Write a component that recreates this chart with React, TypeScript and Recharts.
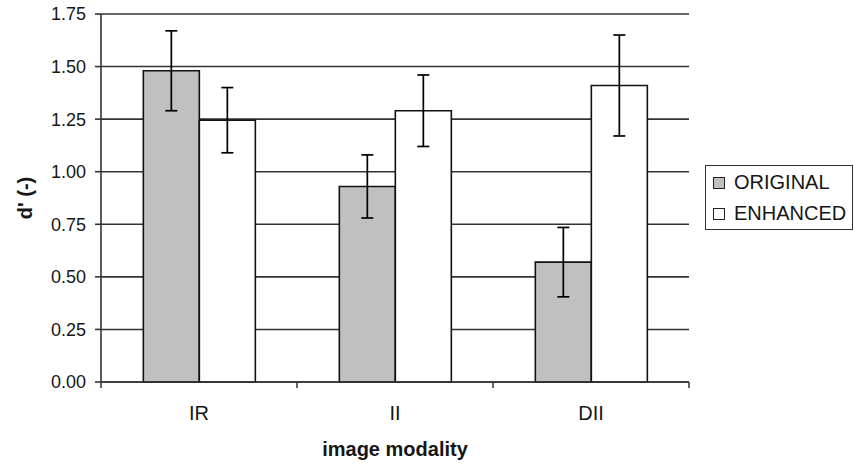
import React from 'react';
import { BarChart, Bar, XAxis, YAxis, CartesianGrid, ErrorBar, Legend, Label } from 'recharts';

const CATEGORIES = ['IR', 'II', 'DII'];
const ORIGINAL = [1.48, 0.93, 0.57];
const ORIGINAL_ERR = [0.19, 0.15, 0.165];
const ENHANCED = [1.245, 1.29, 1.41];
const ENHANCED_ERR = [0.155, 0.17, 0.24];
const Y_TICKS = [0, 0.25, 0.5, 0.75, 1, 1.25, 1.5, 1.75];

const SERIES = [
  { key: 'original', errKey: 'originalErr', name: 'ORIGINAL', fill: '#c0c0c0' },
  { key: 'enhanced', errKey: 'enhancedErr', name: 'ENHANCED', fill: '#ffffff' },
];

const data = CATEGORIES.map((c, i) => ({
  modality: c,
  original: ORIGINAL[i],
  originalErr: ORIGINAL_ERR[i],
  enhanced: ENHANCED[i],
  enhancedErr: ENHANCED_ERR[i],
}));

const FONT = '"Liberation Sans", Arial, Helvetica, sans-serif';
const LINE = '#333';
const TEXT = '#161616';

// Excel style: tick marks sit between the categories, not under them
const CategoryTick = (props: any) => {
  const { x, y, payload } = props;
  const half = payload.offset ?? 0;
  const axisY = y - 6;
  const last = payload.value === CATEGORIES[CATEGORIES.length - 1];
  return (
    <g>
      <line x1={x - half} x2={x - half} y1={axisY} y2={axisY + 6} stroke={LINE} strokeWidth={1.5} />
      {last && <line x1={x + half} x2={x + half} y1={axisY} y2={axisY + 6} stroke={LINE} strokeWidth={1.5} />}
      <text x={x} y={axisY + 38} textAnchor="middle" fontSize={20} fill={TEXT} fontFamily={FONT}>
        {payload.value}
      </text>
    </g>
  );
};

const LegendBox = () => (
  <div
    style={{
      border: `1.5px solid ${LINE}`,
      width: 148,
      height: 65,
      boxSizing: 'border-box',
      padding: '1px 0 0 7px',
      fontFamily: FONT,
      fontSize: 20,
      color: TEXT,
      background: '#fff',
    }}
  >
    {SERIES.map((s) => (
      <div key={s.key} style={{ display: 'flex', alignItems: 'center', height: 31, lineHeight: '31px' }}>
        <span
          style={{
            display: 'inline-block',
            width: 10,
            height: 10,
            border: '1px solid #222',
            background: s.fill,
            marginRight: 9,
          }}
        />
        {s.name}
      </div>
    ))}
  </div>
);

export default function App() {
  return (
    <div style={{ position: 'absolute', left: 0, top: 0, background: '#fff' }}>
      <BarChart
        width={854}
        height={464}
        data={data}
        margin={{ top: 14, right: 165, bottom: 0, left: 0 }}
        barCategoryGap="21.6%"
        barGap={0}
      >
        <CartesianGrid vertical={false} stroke={LINE} strokeWidth={1.6} />
        <XAxis
          dataKey="modality"
          height={82}
          stroke={LINE}
          strokeWidth={1.6}
          tickLine={false}
          tickSize={6}
          tickMargin={0}
          tick={<CategoryTick />}
          interval={0}
        >
          <Label
            content={(p: any) => (
              <text
                x={p.viewBox.x + p.viewBox.width / 2}
                y={p.viewBox.y + 74}
                textAnchor="middle"
                fontSize={20}
                fontWeight="bold"
                fill={TEXT}
                fontFamily={FONT}
              >
                image modality
              </text>
            )}
          />
        </XAxis>
        <YAxis
          width={101}
          domain={[0, 1.75]}
          ticks={Y_TICKS}
          interval={0}
          tickFormatter={(v: number) => v.toFixed(2)}
          stroke={LINE}
          strokeWidth={1.6}
          tickSize={6}
          tickMargin={9}
          tick={{ fontSize: 18, fill: TEXT, fontFamily: FONT }}
        >
          <Label
            content={(p: any) => {
              const cx = p.viewBox.x + 25;
              const cy = p.viewBox.y + p.viewBox.height / 2;
              return (
                <text
                  x={cx}
                  y={cy}
                  transform={`rotate(-90, ${cx}, ${cy})`}
                  textAnchor="middle"
                  dominantBaseline="central"
                  fontSize={20}
                  fontWeight="bold"
                  fill={TEXT}
                  fontFamily={FONT}
                >
                  d' (-)
                </text>
              );
            }}
          />
        </YAxis>
        <YAxis yAxisId="frame" orientation="right" width={0} tick={false} tickLine={false} stroke={LINE} strokeWidth={1.6} />
        <Legend
          layout="vertical"
          align="center"
          verticalAlign="middle"
          content={<LegendBox />}
          wrapperStyle={{ position: 'absolute', left: 705, top: 165, width: 'auto', height: 'auto' }}
        />
        {SERIES.map((s) => (
          <Bar
            key={s.key}
            dataKey={s.key}
            name={s.name}
            fill={s.fill}
            stroke="#111"
            strokeWidth={1.6}
            isAnimationActive={false}
          >
            <ErrorBar dataKey={s.errKey} width={6} stroke="#000" strokeWidth={1.7} direction="y" />
          </Bar>
        ))}
      </BarChart>
    </div>
  );
}
